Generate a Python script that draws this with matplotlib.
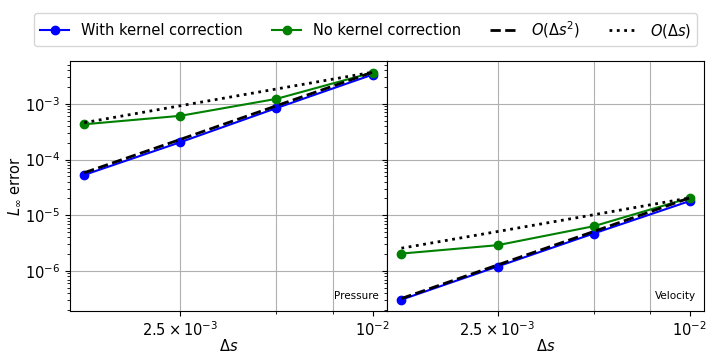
import matplotlib
matplotlib.use("Agg")
import matplotlib.pyplot as plt
from matplotlib.ticker import NullFormatter

plt.rcParams['font.size'] = 10.5

ds = [0.00125, 0.0025, 0.005, 0.01]

# pressure errors
p_kernel = [5.3e-5, 2.05e-4, 8.4e-4, 3.35e-3]
p_nokernel = [4.3e-4, 6.1e-4, 1.23e-3, 3.65e-3]
p_order2 = [5.8e-5, 2.3e-4, 9.25e-4, 3.7e-3]
p_order1 = [4.6e-4, 9.25e-4, 1.85e-3, 3.7e-3]

# velocity errors
v_kernel = [3.05e-7, 1.2e-6, 4.7e-6, 1.8e-5]
v_nokernel = [2.05e-6, 2.9e-6, 6.35e-6, 2.05e-5]
v_order2 = [3.2e-7, 1.28e-6, 5.1e-6, 2.05e-5]
v_order1 = [2.56e-6, 5.1e-6, 1.02e-5, 2.05e-5]

panels = [
    ("Pressure", p_kernel, p_nokernel, p_order2, p_order1),
    ("Velocity", v_kernel, v_nokernel, v_order2, v_order1),
]

fig, axes = plt.subplots(1, 2, sharey=True, figsize=(7.2, 3.6), dpi=100)
fig.subplots_adjust(left=0.097, right=0.978, top=0.831, bottom=0.136, wspace=0)

for ax, (name, k, nk, o2, o1) in zip(axes, panels):
    ax.loglog(ds, k, 'b-o', label='With kernel correction')
    ax.loglog(ds, nk, 'g-o', label='No kernel correction')
    ax.loglog(ds, o2, 'k--', lw=2, label=r'$O(\Delta s^2)$')
    ax.loglog(ds, o1, 'k:', lw=2, label=r'$O(\Delta s)$')
    ax.set_xticks([0.0025, 0.01])
    ax.set_xticklabels([r'$2.5\times10^{-3}$', r'$10^{-2}$'])
    ax.set_xticks([0.005, 0.0075], minor=True)
    ax.xaxis.set_minor_formatter(NullFormatter())
    ax.grid(True, which='major', axis='y')
    ax.grid(True, which='both', axis='x')
    ax.xaxis.get_major_ticks()[1].gridline.set_visible(False)
    ax.set_xlabel(r'$\Delta s$', labelpad=-1)
    ax.text(0.975, 0.04, name, transform=ax.transAxes, ha='right', va='bottom', fontsize=7.5)

axes[0].set_ylabel(r'$L_\infty$ error', labelpad=1)

handles, labels = axes[0].get_legend_handles_labels()
fig.legend(handles, labels, loc='center', bbox_to_anchor=(0.508, 0.918), ncol=4)

fig.savefig('out.png')
